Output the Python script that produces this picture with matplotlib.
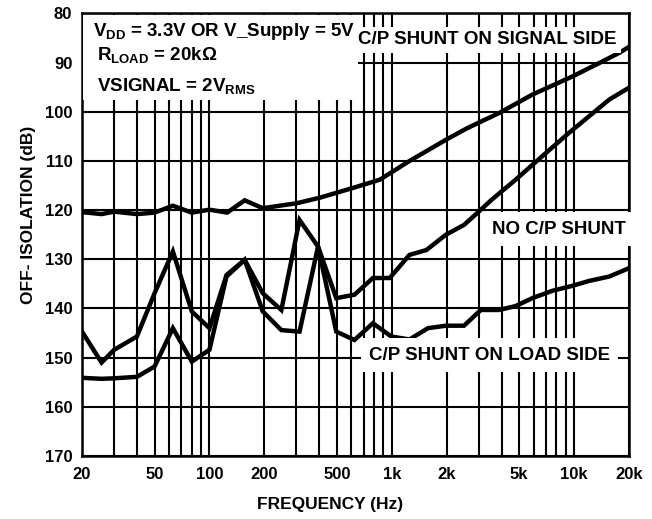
import matplotlib
matplotlib.use('Agg')
import matplotlib.pyplot as plt
from matplotlib.ticker import FixedLocator, NullFormatter

plt.rcParams['font.family'] = ['Liberation Sans', 'DejaVu Sans']
plt.rcParams['font.weight'] = 'bold'
plt.rcParams['mathtext.fontset'] = 'custom'
plt.rcParams['mathtext.rm'] = 'Liberation Sans:bold'
plt.rcParams['mathtext.bf'] = 'Liberation Sans:bold'
plt.rcParams['mathtext.default'] = 'bf'

# C/P shunt on signal side
freq_sig = [20, 25.6, 30, 40, 50, 63, 80, 100, 125, 156, 196, 300, 400, 610, 860,
            1250, 2000, 2600, 3900, 5900, 9800, 13700, 17700, 20000]
db_sig = [120.4, 120.8, 120.3, 120.8, 120.5, 119.1, 120.5, 119.9, 120.5, 118.0, 119.6,
          118.6, 117.5, 115.5, 113.8, 110.0, 105.6, 103.3, 100.2, 96.5, 92.8, 90.1, 88.0, 86.8]

# no C/P shunt
freq_no = [20, 25.6, 30, 40, 50, 63, 80, 100, 124, 156, 196, 248, 312, 394, 496, 624,
           788, 974, 1250, 1550, 1980, 2490, 3000, 3550, 4780, 6700, 9360, 15600, 20000]
db_no = [144.7, 151.0, 148.4, 145.7, 136.9, 128.4, 140.6, 144.0, 133.2, 130.1, 136.9,
         140.3, 122.0, 127.4, 137.9, 137.2, 133.8, 133.8, 129.1, 128.1, 125.0, 123.0,
         120.3, 117.8, 113.8, 109.0, 104.3, 97.5, 95.1]

# C/P shunt on load side
freq_load = [20, 25.6, 30, 40, 50, 63, 80, 100, 124, 156, 196, 248, 312, 394, 496, 624,
             788, 994, 1250, 1580, 1980, 2490, 3080, 3880, 4780, 5900, 7600, 9770,
             12060, 15580, 20000]
db_load = [154.1, 154.3, 154.2, 153.9, 151.8, 144.0, 150.8, 148.4, 133.5, 130.1, 140.6,
           144.4, 144.7, 127.4, 144.7, 146.4, 143.0, 145.7, 146.3, 144.0, 143.5, 143.5,
           140.3, 140.3, 139.5, 137.9, 136.4, 135.4, 134.4, 133.5, 131.8]

xtick_vals = [20, 50, 100, 200, 500, 1000, 2000, 5000, 10000, 20000]
xtick_labels = ['20', '50', '100', '200', '500', '1k', '2k', '5k', '10k', '20k']
grid_x = [20, 30, 40, 50, 60, 70, 80, 90, 100, 200, 300, 400, 500, 600, 700, 800, 900,
          1000, 2000, 3000, 4000, 5000, 6000, 7000, 8000, 9000, 10000, 20000]
ytick_vals = list(range(80, 171, 10))

fig = plt.figure(figsize=(6.52, 5.19), dpi=100)
ax = fig.add_axes([0.1258, 0.1214, 0.8389, 0.8526])

for gx in grid_x:
    ax.axvline(gx, color='black', lw=1.5, zorder=1)
for gy in ytick_vals:
    ax.axhline(gy, color='black', lw=1.5, zorder=1)

ax.plot(freq_sig, db_sig, color='black', lw=3.2, zorder=3, solid_joinstyle='miter')
ax.plot(freq_no, db_no, color='black', lw=3.2, zorder=3, solid_joinstyle='miter')
ax.plot(freq_load, db_load, color='black', lw=3.2, zorder=3, solid_joinstyle='miter')

ax.set_xscale('log')
ax.set_xlim(20, 20000)
ax.set_ylim(170, 80)
ax.xaxis.set_major_locator(FixedLocator(xtick_vals))
ax.set_xticklabels(xtick_labels)
ax.xaxis.set_minor_formatter(NullFormatter())
ax.xaxis.set_minor_locator(FixedLocator([]))
ax.set_yticks(ytick_vals)
ax.tick_params(axis='x', length=0, labelsize=12, pad=8)
ax.tick_params(axis='y', length=0, labelsize=12, pad=7)
for s in ax.spines.values():
    s.set_linewidth(1.8)

fig.text(330 / 652, 1 - 505 / 519, 'FREQUENCY (Hz)', fontsize=12.5,
         ha='center', va='center')
fig.text(29 / 652, 1 - 215 / 519, 'OFF- ISOLATION (dB)', fontsize=12.5,
         ha='center', va='center', rotation=90)

# white box behind the conditions text
cond_box = plt.Rectangle((83 / 652, 1 - 100 / 519), (358 - 83) / 652, (100 - 15) / 519,
                         transform=fig.transFigure, facecolor='white',
                         edgecolor='none', zorder=2)
fig.patches.append(cond_box)
cond_box.set_figure(fig)
ax.set_zorder(1)
ax.patch.set_alpha(0)

fig.text(93 / 652, 1 - 36 / 519, r'V$_{DD}$ = 3.3V OR V_Supply = 5V', fontsize=13.5,
         ha='left', va='baseline', zorder=5)
fig.text(97 / 652, 1 - 60 / 519, r'R$_{LOAD}$ = 20k$\Omega$', fontsize=13.5,
         ha='left', va='baseline', zorder=5)
fig.text(97 / 652, 1 - 91 / 519, r'VSIGNAL = 2V$_{RMS}$', fontsize=13.5,
         ha='left', va='baseline', zorder=5)

fig.text(358 / 652, 1 - 40 / 519, 'C/P SHUNT ON SIGNAL SIDE', fontsize=13.5,
         ha='left', va='center', zorder=5,
         bbox=dict(facecolor='white', edgecolor='none', pad=3))
fig.text(492 / 652, 1 - 229 / 519, 'NO C/P SHUNT', fontsize=13.5,
         ha='left', va='center', zorder=5,
         bbox=dict(facecolor='white', edgecolor='none', pad=6))
fig.text(369 / 652, 1 - 355 / 519, 'C/P SHUNT ON LOAD SIDE', fontsize=13.5,
         ha='left', va='center', zorder=5,
         bbox=dict(facecolor='white', edgecolor='none', pad=6))

fig.savefig('out.png', dpi=100)
